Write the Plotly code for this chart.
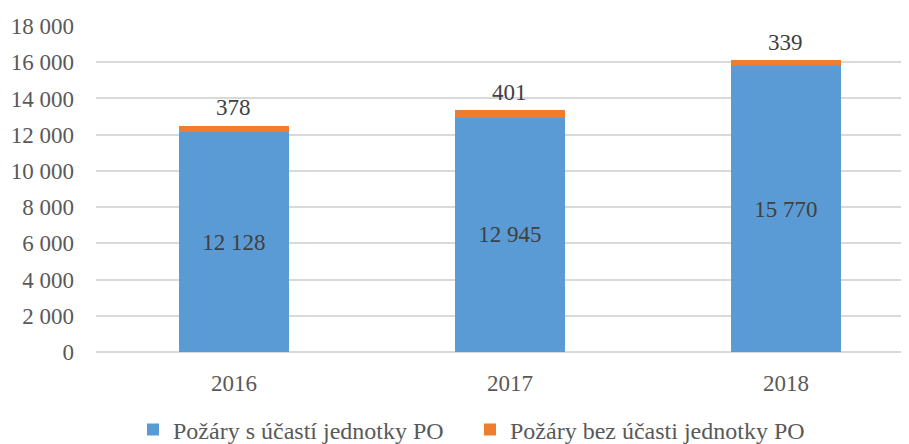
import plotly.graph_objects as go

years = ["2016", "2017", "2018"]
s_ucasti = [12128, 12945, 15770]
bez_ucasti = [378, 401, 339]
series_names = ["Požáry s účastí jednotky PO", "Požáry bez účasti jednotky PO"]
y_ticks = [0, 2000, 4000, 6000, 8000, 10000, 12000, 14000, 16000, 18000]

FONT = "Liberation Serif, Times New Roman, serif"
FS = 23
W, H = 901, 436  # page body has an 8px margin; keep figure inside the window

fig = go.Figure()
fig.add_trace(go.Bar(
    x=years, y=s_ucasti, name=series_names[0],
    marker=dict(color="#5b9bd5", line=dict(width=0)),
    texttemplate="%{y:,d}", textposition="inside", insidetextanchor="middle",
    textfont=dict(family=FONT, size=FS, color="#404040"),
    width=0.4,
))
fig.add_trace(go.Bar(
    x=years, y=bez_ucasti, name=series_names[1],
    marker=dict(color="#ed7d31", line=dict(width=0)),
    textposition="none",
    width=0.4,
))
for i, (a, b) in enumerate(zip(s_ucasti, bez_ucasti)):
    fig.add_annotation(x=i, y=a + b, xref="x", yref="y",
                       text=f"{b:,}".replace(",", " "),
                       showarrow=False, yanchor="middle", yshift=18,
                       font=dict(family=FONT, size=FS, color="#404040"))

fig.update_layout(
    barmode="stack",
    separators=", ",
    width=W, height=H,
    margin=dict(l=88, r=0, t=18, b=92, autoexpand=False),
    paper_bgcolor="white", plot_bgcolor="white",
    font=dict(family=FONT, size=FS, color="#595959"),
    showlegend=True,
    legend=dict(orientation="h", xref="paper", x=(125 - 88) / 813, xanchor="left",
                y=(344 - 422) / 326, yanchor="middle",
                font=dict(family=FONT, size=24, color="#595959"),
                entrywidth=292, entrywidthmode="pixels", traceorder="normal"),
    xaxis=dict(type="category", range=[-0.5, 2.446], showgrid=False, showline=False,
               ticks="", ticklabelstandoff=15,
               tickfont=dict(family=FONT, size=FS, color="#595959")),
    yaxis=dict(range=[0, 18000], tickvals=y_ticks, tickformat=",d",
               showgrid=True, gridcolor="#d9d9d9", gridwidth=1.5,
               zeroline=True, zerolinecolor="#d9d9d9", zerolinewidth=1.5,
               showline=False, ticks="", ticklabelstandoff=21,
               tickfont=dict(family=FONT, size=FS, color="#595959")),
)
fig.write_html("out.html")
